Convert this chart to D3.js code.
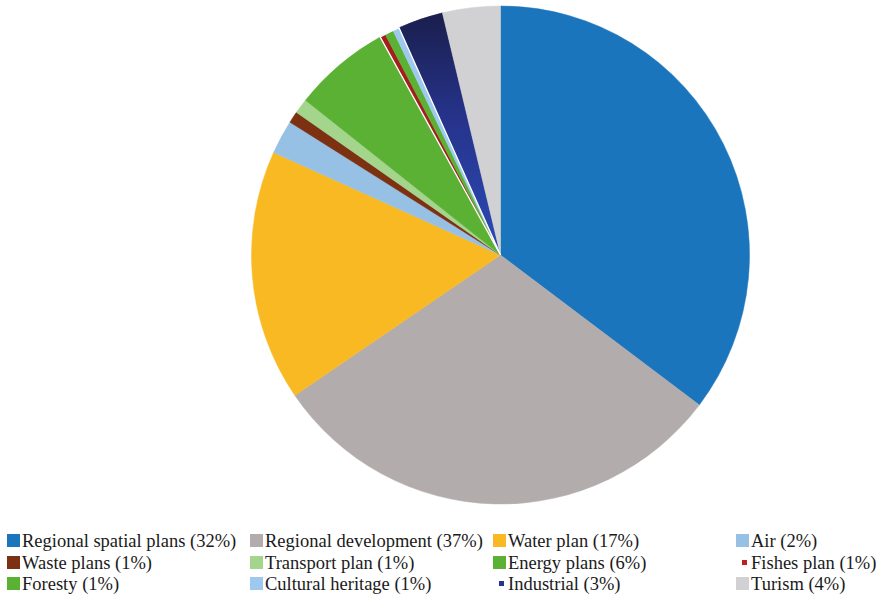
<!DOCTYPE html>
<html>
<head>
<meta charset="utf-8">
<script src="https://cdn.jsdelivr.net/npm/d3@7/dist/d3.min.js"></script>
<style>
  html, body { margin: 0; padding: 0; background: #ffffff; }
  svg { display: block; }
  .legend text { font-family: "Liberation Serif", "DejaVu Serif", serif; font-size: 18.5px; fill: #1a1a1a; }
</style>
</head>
<body>
<svg id="chart" width="883" height="597"></svg>
<script>
// Category names (legend labels as printed)
const categories = [
  "Regional spatial plans", "Regional development", "Water plan", "Air",
  "Waste plans", "Transport plan", "Energy plans", "Fishes plan",
  "Foresty", "Cultural heritage", "Industrial", "Turism"
];
// Percentages printed in the legend
const legendPercents = [32, 37, 17, 2, 1, 1, 6, 1, 1, 1, 3, 4];
// Slice sizes (percent of the circle)
const sliceValues = [35.3, 30.2, 16.3, 2.2, 0.75, 0.97, 6.3, 0.36, 0.56, 0.42, 2.94, 3.75];
const colors = [
  "#1a75bc", "#b2acac", "#f8b923", "#96c1e5",
  "#7c3212", "#a3d68c", "#5bb133", "#a21f1b",
  "#5bb133", "#9dc9ee", "url(#navyGrad)", "#d1d0d2"
];
const legendColors = [
  "#1a75bc", "#b2acac", "#f8b923", "#96c1e5",
  "#7c3212", "#a3d68c", "#5bb133", "#c0201b",
  "#5bb133", "#9dc9ee", "#243394", "#d1d0d2"
];
// legend swatch kind: full square or small marker
const smallSwatch = [false, false, false, false, false, false, false, true, false, false, true, false];

const svg = d3.select("#chart");
const defs = svg.append("defs");
const grad = defs.append("linearGradient")
  .attr("id", "navyGrad")
  .attr("gradientUnits", "userSpaceOnUse")
  .attr("x1", 0).attr("y1", -240).attr("x2", 0).attr("y2", -15);
grad.append("stop").attr("offset", "0%").attr("stop-color", "#1a1f4e");
grad.append("stop").attr("offset", "45%").attr("stop-color", "#26338a");
grad.append("stop").attr("offset", "100%").attr("stop-color", "#2b48b2");

const cx = 500.5, cy = 255, r = 249;
const g = svg.append("g").attr("transform", `translate(${cx},${cy})`);

const pie = d3.pie().sort(null).value(d => d.v);
const data = categories.map((c, i) => ({ name: c, v: sliceValues[i], color: colors[i] }));
const arcs = pie(data);
const arc = d3.arc().innerRadius(0).outerRadius(r);

g.selectAll("path.slice")
  .data(arcs)
  .enter().append("path")
  .attr("class", "slice")
  .attr("d", arc)
  .attr("fill", d => d.data.color)
  .attr("stroke", d => d.data.color)
  .attr("stroke-width", 0.5);

// thin white separators around the group of tiny slices (Fishes .. Cultural heritage)
const iF = categories.indexOf("Fishes plan");
const iC = categories.indexOf("Cultural heritage");
g.append("path")
  .attr("d", arc({ startAngle: arcs[iF].startAngle, endAngle: arcs[iC].endAngle }))
  .attr("fill", "none")
  .attr("stroke", "#ffffff")
  .attr("stroke-width", 1.4);

// Legend
const colX = [7, 250, 493, 736];
const rowY = [541, 563, 584];
const legend = svg.append("g").attr("class", "legend");

categories.forEach((c, i) => {
  const col = i % 4, row = Math.floor(i / 4);
  const x = colX[col], y = rowY[row];
  if (smallSwatch[i]) {
    legend.append("rect").attr("x", x + 6).attr("y", y - 3).attr("width", 5).attr("height", 5)
      .attr("fill", legendColors[i]);
  } else {
    legend.append("rect").attr("x", x).attr("y", y - 7).attr("width", 13).attr("height", 13)
      .attr("fill", legendColors[i]);
  }
  legend.append("text").attr("x", x + 15).attr("y", y + 6)
    .attr("font-family", "Liberation Serif, DejaVu Serif, serif")
    .text(`${c} (${legendPercents[i]}%)`);
});
</script>
</body>
</html>
